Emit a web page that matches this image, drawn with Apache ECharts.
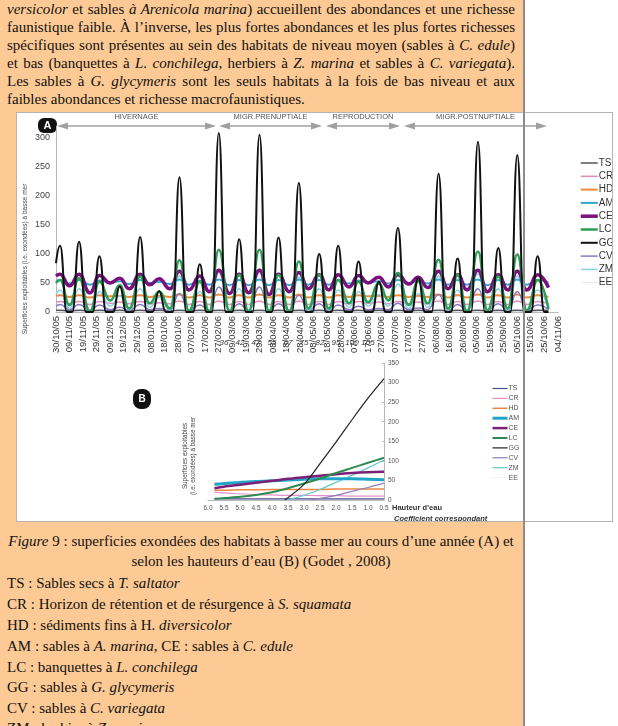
<!DOCTYPE html>
<html>
<head>
<meta charset="utf-8">
<script src="https://cdn.jsdelivr.net/npm/echarts@6/dist/echarts.min.js"></script>
<style>
  html, body { margin: 0; padding: 0; background: #fff; }
  #page { position: relative; width: 618px; height: 726px; overflow: hidden; background: #fff; }
  #orange { position: absolute; left: 0; top: 0; width: 523px; height: 726px; background: #fdca95; }
  #border { position: absolute; left: 523px; top: 0; width: 2px; height: 726px; background: #8c8c8c; z-index: 5; }
  .ln { position: absolute; left: 7px; width: 508px; font-family: "Liberation Serif", serif; font-size: 15px; color: #111; white-space: nowrap; line-height: 18px; height: 18px; }
  .just { text-align: justify; text-align-last: justify; white-space: normal; }
  .ctr { text-align: center; }
  #chart { position: absolute; left: 16px; top: 112px; width: 597px; height: 410px; background: #fff; box-sizing: border-box; border: 1px solid #b5b5b5; }
</style>
</head>
<body>
<div id="page">
  <div id="orange"></div>
  <div class="ln just" style="top:0px"><i>versicolor</i> et sables <i>à Arenicola marina</i>) accueillent des abondances et une richesse</div>
  <div class="ln just" style="top:18px">faunistique faible. À l’inverse, les plus fortes abondances et les plus fortes richesses</div>
  <div class="ln just" style="top:36px">spécifiques sont présentes au sein des habitats de niveau moyen (sables à <i>C. edule</i>)</div>
  <div class="ln just" style="top:54px">et bas (banquettes à <i>L. conchilega</i>, herbiers à <i>Z. marina</i> et sables à <i>C. variegata</i>).</div>
  <div class="ln just" style="top:72px">Les sables à <i>G. glycymeris</i> sont les seuls habitats à la fois de bas niveau et aux</div>
  <div class="ln" style="top:90px">faibles abondances et richesse macrofaunistiques.</div>

  <div id="chart"></div>

  <div class="ln ctr" style="top:532px"><i>Figure</i> 9 : superficies exondées des habitats à basse mer au cours d’une année (A) et</div>
  <div class="ln ctr" style="top:552px">selon les hauteurs d’eau (B) (Godet , 2008)</div>
  <div class="ln" style="top:574px">TS : Sables secs à <i>T. saltator</i></div>
  <div class="ln" style="top:595px">CR : Horizon de rétention et de résurgence à <i>S. squamata</i></div>
  <div class="ln" style="top:616px">HD : sédiments fins à H. <i>diversicolor</i></div>
  <div class="ln" style="top:637px">AM : sables à <i>A. marina</i>, CE : sables à <i>C. edule</i></div>
  <div class="ln" style="top:658px">LC : banquettes à <i>L. conchilega</i></div>
  <div class="ln" style="top:678px">GG : sables à <i>G. glycymeris</i></div>
  <div class="ln" style="top:699px">CV : sables à <i>C. variegata</i></div>
  <div class="ln" style="top:719px">ZM : herbier à <i>Z. marina</i></div>
  <div id="border"></div>
</div>
<script>
// ---- chart A : one year, day index 0 = 30/10/05 ----
var dateTicks = ['30/10/05','09/11/05','19/11/05','29/11/05','09/12/05','19/12/05','29/12/05','08/01/06','18/01/06','28/01/06',
  '07/02/06','17/02/06','27/02/06','09/03/06','19/03/06','29/03/06','08/04/06','18/04/06','28/04/06','08/05/06',
  '18/05/06','28/05/06','07/06/06','17/06/06','27/06/06','07/07/06','17/07/06','27/07/06','06/08/06','16/08/06',
  '26/08/06','05/09/06','15/09/06','25/09/06','05/10/06','15/10/06','25/10/06','04/11/06'];
var habitats = ['TS','CR','HD','AM','CE','LC','GG','CV','ZM','EE'];

// spring tides (peaks) and neap tides (troughs), in days
var peakDays = [3,17,32,47,62,76,91,106,120,135,150,164,179,194,208,223,238,252,267,282,296,311,326,340,355];
var troughDays = [10,25,40,54,69,84,98,113,128,142,157,172,186,201,216,230,245,260,274,289,303,318,333,347];
var lastDay = 363;

var ggPeaks = [114,121,96,44,129,36,232,82,308,125,305,128,222,100,114,87,52,145,58,238,92,293,110,270,96];
var ggStart = 84;

var lcPeaks = [55,58,52,46,61,35,89,52,107,64,107,64,87,64,55,52,49,67,53,90,64,104,61,99,55];
var lcTroughs = [12,1,20,6,15,6,2,1,1,1,1,1,6,6,15,17,20,12,15,6,1,3,6,3];
var cePeaks = [65,65,63,58,65,57,70,62,72,65,72,65,68,64,64,63,60,64,60,70,64,72,64,70,64];
var ceTroughs = [45,33,50,40,47,40,38,35,32,33,30,35,40,38,43,50,43,48,42,40,38,35,38,38];
var amPeaks = [55,55,54,53,55,52,56,54,56,55,56,55,56,55,55,54,53,55,53,56,55,56,55,56,55];
var amTroughs = [49,47,51,48,50,48,47,47,46,46,46,46,47,47,49,51,49,50,49,47,47,46,47,47];
var zmPeaks = [38,40,35,28,40,25,62,35,68,40,68,40,60,40,38,35,30,48,32,62,38,66,40,62,38];
var zmTroughs = [6,2,10,4,8,4,2,2,1,1,1,1,3,3,8,10,10,6,8,3,1,2,3,2];
var hdPeaks = [29,29,29,28,29,28,30,29,30,29,30,29,30,29,29,29,28,29,28,30,29,30,29,30,29];
var hdTroughs = [26,25,27,26,26,26,25,25,25,25,25,25,25,25,26,27,26,26,26,25,25,25,25,25];
var crPeaks = [18,18,18,17,18,16,19,18,19,18,19,18,19,18,18,18,17,18,17,19,18,19,18,19,18];
var crTroughs = [14,13,15,14,14,14,13,13,13,13,13,13,13,13,14,15,14,14,14,13,13,13,13,13];
var cvPeaks = [13,13,12,8,13,6,32,12,43,14,43,14,29,14,12,10,6,15,7,30,13,40,14,35,12];
var cvTroughs = [4,3,4,3,4,3,3,3,3,3,3,3,3,3,4,4,4,4,4,3,3,3,3,3];
var tsPeaks = [3,3,3,3,3,3,3,3,3,3,3,3,3,3,3,3,3,3,3,3,3,3,3,3,3];
var tsTroughs = [2,2,2,2,2,2,2,2,2,2,2,2,2,2,2,2,2,2,2,2,2,2,2,2];
var eePeaks = [1,1,1,1,1,1,1,1,1,1,1,1,1,1,1,1,1,1,1,1,1,1,1,1,1];
var eeTroughs = [1,1,1,1,1,1,1,1,1,1,1,1,1,1,1,1,1,1,1,1,1,1,1,1];
// values at first and last day
var startVals = {LC: 50, CE: 62, AM: 52, ZM: 30, HD: 28, CR: 17, CV: 10, TS: 3, EE: 1};
var endVals = {LC: 5, CE: 42, AM: 50, ZM: 5, HD: 26, CR: 14, CV: 4, TS: 3, EE: 1};

// ---- chart B : against water height ----
var heightsB = [5.8,5.5,5.0,4.5,4.0,3.5,3.0,2.5,2.0,1.5,1.0,0.5];
var lcB = [3,5,8,13,20,30,42,55,69,82,95,108];
var ceB = [30,34,39,44,49,54,58,62,66,69,71,72];
var amB = [40,42,45,47,49,51,53,54,54,54,53,52];
var hdB = [25,25,26,26,27,27,27,27,28,28,28,28];
var crB = [20,18,16,14,13,12,12,11,11,10,10,10];
var tsB = [3,3,3,3,3,3,3,3,3,3,3,3];
var eeB = [1,1,1,1,1,1,1,1,1,1,1,1];
var ggHeightsB = [3.6,3.0,2.5,2.0,1.5,1.0,0.5];
var ggB = [0,40,93,148,205,260,310];
var zmHeightsB = [3.5,3.0,2.5,2.0,1.5,1.0,0.5];
var zmB = [0,12,27,45,63,82,102];
var cvHeightsB = [2.8,2.0,1.5,1.0,0.5];
var cvB = [0,12,22,32,43];
var heightTicks = [5.5,5.0,4.5,4.0,3.5,3.0,2.5,2.0,1.5,1.0];
var coefTicks = [36,42,47,55,67,75,82,95,100,105];

var FONT = 'Liberation Sans, Arial, sans-serif';
var colA = {TS:'#55555f', CR:'#e08cc0', HD:'#f08a3c', AM:'#2fa8c9', CE:'#7a0f7e', LC:'#2c9e55', GG:'#111111', CV:'#8b78c4', ZM:'#86d4e4', EE:'#e4e8ec'};
var wA = {TS:1.5, CR:1.5, HD:2, AM:2, CE:3.5, LC:2.5, GG:2, CV:1.5, ZM:1.5, EE:1};
var colB = {TS:'#4a4a8e', CR:'#e48fc9', HD:'#ea8540', AM:'#22a4c8', CE:'#7b2079', LC:'#2f8a50', GG:'#222222', CV:'#8e80b8', ZM:'#62c9c9', EE:'#eef2f6'};
var wB = {TS:1.2, CR:1.2, HD:1.5, AM:3, CE:2.5, LC:2, GG:1.2, CV:1.2, ZM:1.2, EE:1};

function tideSeries(start, peaks, troughs, end) {
  var d = [[0, start]];
  for (var i = 0; i < peaks.length; i++) {
    d.push([peakDays[i], peaks[i]]);
    if (i < troughs.length) d.push([troughDays[i], troughs[i]]);
  }
  d.push([lastDay, end]);
  return d;
}
function ggSeries() {
  var d = [[0, ggStart]];
  for (var i = 0; i < ggPeaks.length; i++) {
    if (i > 0) d.push([peakDays[i] - 5, 0]);
    d.push([peakDays[i], ggPeaks[i]]);
    d.push([peakDays[i] + 5, 0]);
  }
  d.push([lastDay, 0]);
  return d;
}
function pairs(xs, ys) {
  return xs.map(function (x, i) { return [x, ys[i]]; });
}

var dataA = {
  TS: tideSeries(startVals.TS, tsPeaks, tsTroughs, endVals.TS),
  CR: tideSeries(startVals.CR, crPeaks, crTroughs, endVals.CR),
  HD: tideSeries(startVals.HD, hdPeaks, hdTroughs, endVals.HD),
  AM: tideSeries(startVals.AM, amPeaks, amTroughs, endVals.AM),
  CE: tideSeries(startVals.CE, cePeaks, ceTroughs, endVals.CE),
  LC: tideSeries(startVals.LC, lcPeaks, lcTroughs, endVals.LC),
  GG: ggSeries(),
  CV: tideSeries(startVals.CV, cvPeaks, cvTroughs, endVals.CV),
  ZM: tideSeries(startVals.ZM, zmPeaks, zmTroughs, endVals.ZM),
  EE: tideSeries(startVals.EE, eePeaks, eeTroughs, endVals.EE)
};
var dataB = {
  TS: pairs(heightsB, tsB), CR: pairs(heightsB, crB), HD: pairs(heightsB, hdB),
  AM: pairs(heightsB, amB), CE: pairs(heightsB, ceB), LC: pairs(heightsB, lcB),
  GG: pairs(ggHeightsB, ggB), CV: pairs(cvHeightsB, cvB), ZM: pairs(zmHeightsB, zmB),
  EE: pairs(heightsB, eeB)
};

// drawing order: thin ones first, GG on top
var order = ['EE','TS','CR','HD','CV','ZM','AM','CE','LC','GG'];
var series = [];
order.forEach(function (n) {
  series.push({
    name: n, type: 'line', xAxisIndex: 0, yAxisIndex: 0, data: dataA[n],
    symbol: 'none', smooth: 0.5, smoothMonotone: 'x', silent: true, z: 2,
    lineStyle: {color: colA[n], width: wA[n]}, itemStyle: {color: colA[n]}
  });
});
order.forEach(function (n) {
  series.push({
    name: n, type: 'line', xAxisIndex: 1, yAxisIndex: 1, data: dataB[n],
    symbol: 'none', smooth: 0.3, silent: true, z: 2,
    lineStyle: {color: colB[n], width: wB[n]}, itemStyle: {color: colB[n]}
  });
});

// season arrows above chart A
var seasons = [[40,199,'HIVERNAGE'],[202,305,'MIGR.PRENUPTIALE'],[309,383,'REPRODUCTION'],[387,530,'MIGR.POSTNUPTIALE']];
var graphics = [];
var ay = 13, ah = 11, aw = 3.5, acol = '#a0a0a0';
seasons.forEach(function (s) {
  graphics.push({type:'line', shape:{x1:s[0]+ah-1, y1:ay, x2:s[1]-ah+1, y2:ay}, style:{stroke:acol, lineWidth:1.6}});
  graphics.push({type:'polygon', shape:{points:[[s[0],ay],[s[0]+ah,ay-aw],[s[0]+ah,ay+aw]]}, style:{fill:acol}});
  graphics.push({type:'polygon', shape:{points:[[s[1],ay],[s[1]-ah,ay-aw],[s[1]-ah,ay+aw]]}, style:{fill:acol}});
  graphics.push({type:'text', x:(s[0]+s[1])/2, y:4, style:{text:s[2], font:'7.5px '+FONT, fill:'#555', textAlign:'center', textVerticalAlign:'middle'}});
});
graphics.push({type:'rect', shape:{x:21, y:5, width:19, height:15, r:6}, style:{fill:'#111'}});
graphics.push({type:'text', x:30.5, y:12.5, style:{text:'A', font:'bold 11px '+FONT, fill:'#fff', textAlign:'center', textVerticalAlign:'middle'}});
graphics.push({type:'text', x:8, y:146, rotation:Math.PI/2, style:{text:'Superficies exploitables (i.e. exondées) à basse mer', font:'6.5px '+FONT, fill:'#444', textAlign:'center', textVerticalAlign:'middle'}});
graphics.push({type:'rect', shape:{x:116, y:276, width:18, height:20, r:8}, style:{fill:'#111'}});
graphics.push({type:'text', x:125, y:286, style:{text:'B', font:'bold 10px '+FONT, fill:'#fff', textAlign:'center', textVerticalAlign:'middle'}});
graphics.push({type:'text', x:172, y:343, rotation:Math.PI/2, style:{text:'Superficies exploitables\n(i.e. exondées) à basse mer', font:'6.3px '+FONT, lineHeight:8, fill:'#444', textAlign:'center', textVerticalAlign:'middle'}});
graphics.push({type:'text', x:375, y:395, style:{text:'Hauteur d’eau', font:'bold 7.5px '+FONT, fill:'#333', textVerticalAlign:'middle'}});
graphics.push({type:'text', x:377, y:406, style:{text:'Coefficient correspondant', font:'italic bold 7.5px '+FONT, fill:'#333', textVerticalAlign:'middle'}});

function legendData(cols, widths) {
  return habitats.map(function (n) {
    return {name: n, lineStyle: {color: cols[n], width: widths[n]}, itemStyle: {color: cols[n], opacity: 0, borderWidth: 0}};
  });
}

var chart = echarts.init(document.getElementById('chart'), null, {renderer: 'canvas'});
chart.setOption({
  animation: false,
  backgroundColor: 'transparent',
  textStyle: {fontFamily: FONT},
  grid: [
    {left: 39, top: 13, width: 502, height: 186},
    {left: 191, top: 250, width: 176, height: 137}
  ],
  xAxis: [
    {type: 'value', gridIndex: 0, min: 0, max: 370, interval: 10,
      axisLine: {lineStyle: {color: '#b8b8b8'}}, axisTick: {show: false}, splitLine: {show: false},
      axisLabel: {rotate: 90, fontSize: 9.5, color: '#333', margin: 4,
        formatter: function (v) { return dateTicks[Math.round(v / 10)]; }}},
    {type: 'value', gridIndex: 1, inverse: true, min: 0.5, max: 6.0, interval: 0.5,
      axisLine: {lineStyle: {color: '#b8b8b8'}}, axisTick: {show: false}, splitLine: {show: false},
      axisLabel: {fontSize: 6.5, color: '#555', margin: 5, formatter: function (v) { return v.toFixed(1); }}},
    {type: 'value', gridIndex: 1, inverse: true, min: 0.5, max: 6.0, interval: 0.5, offset: 11,
      axisLine: {show: false}, axisTick: {show: false}, splitLine: {show: false},
      axisLabel: {fontSize: 8, fontStyle: 'italic', color: '#333', margin: 5,
        formatter: function (v) {
          for (var i = 0; i < heightTicks.length; i++) if (Math.abs(heightTicks[i] - v) < 1e-6) return coefTicks[i];
          return '';
        }}}
  ],
  yAxis: [
    {type: 'value', gridIndex: 0, min: 0, max: 320, interval: 50,
      axisLine: {show: true, lineStyle: {color: '#b8b8b8'}}, axisTick: {show: false}, splitLine: {show: false},
      axisLabel: {fontSize: 9, color: '#444', margin: 6, showMaxLabel: false}},
    {type: 'value', gridIndex: 1, position: 'right', min: 0, max: 350, interval: 50,
      axisLine: {show: true, lineStyle: {color: '#b8b8b8'}}, axisTick: {show: true, inside: true, length: 2, lineStyle: {color: '#b8b8b8'}}, splitLine: {show: false},
      axisLabel: {fontSize: 6.5, color: '#555', margin: 4}}
  ],
  legend: [
    {left: 562, top: 45, padding: 0, orient: 'vertical', itemWidth: 17, itemHeight: 10, itemGap: 3.3, selectedMode: false,
      textStyle: {fontSize: 10, color: '#333', lineHeight: 10, padding: [0, 0, 0, -4]},
      data: legendData(colA, wA)},
    {left: 474, top: 272, padding: 0, orient: 'vertical', itemWidth: 15, itemHeight: 7, itemGap: 2.9, selectedMode: false,
      textStyle: {fontSize: 7, color: '#555', lineHeight: 7, padding: [0, 0, 0, -4]},
      data: legendData(colB, wB)}
  ],
  graphic: graphics,
  series: series
});
</script>
</body>
</html>
